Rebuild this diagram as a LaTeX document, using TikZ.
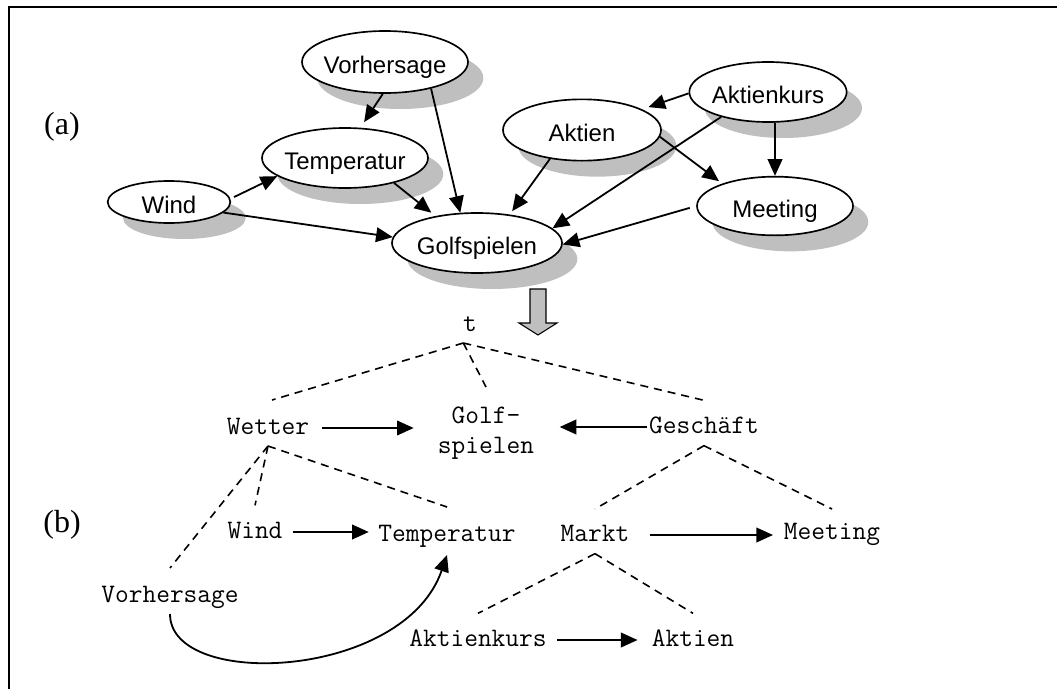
\documentclass[tikz,border=0pt]{standalone}
\usepackage{fontspec}
\setmainfont{Liberation Serif}
\newfontfamily\arialish{Liberation Sans}
\usetikzlibrary{arrows.meta,shapes.geometric,shadows}

\begin{document}
\begin{tikzpicture}[x=0.75pt,y=-0.75pt,
  bn/.style={ellipse, draw, line width=1.25pt, fill=white, inner xsep=-4pt, inner ysep=0pt,
     text height=16.5pt, text depth=0pt, font=\arialish\fontsize{18}{21}\selectfont,
     drop shadow={shadow xshift=11.5pt, shadow yshift=-12pt, fill=black!25, opacity=1}},
  dep/.style={line width=1.35pt, -{Triangle[length=12.5pt,width=11pt]}},
  tx/.style={font=\ttfamily\fontsize{20}{22.5}\selectfont, inner sep=0pt, text height=12pt, text depth=2pt},
  part/.style={line width=1.2pt, dash pattern=on 6pt off 4.5pt},
  lbl/.style={font=\fontsize{24}{28}\selectfont, inner sep=0pt},
]
\useasboundingbox (0,0) rectangle (1057,689);

% frame
\draw[line width=1.5pt] (1057,7) -- (9,7) -- (9,689);

% part labels
\node[lbl] (la) at (62,127) {(a)};
\node[lbl] (lb) at (62,525) {(b)};

% (a) belief network
\node[bn, minimum width=124.5pt, minimum height=46.5pt] (vor) at (385,62) {Vorhersage};
\node[bn, minimum width=124.5pt, minimum height=45pt] (tem) at (345,158) {Temperatur};
\node[bn, minimum width=92pt, minimum height=31.5pt] (win) at (169,202) {Wind};
\node[bn, minimum width=127.5pt, minimum height=45pt] (gol) at (477,243) {Golfspielen};
\node[bn, minimum width=118.5pt, minimum height=46pt] (akt) at (582,130) {Aktien};
\node[bn, minimum width=118pt, minimum height=45pt] (kur) at (768,92) {Aktienkurs};
\node[bn, minimum width=117pt, minimum height=44pt] (mee) at (775,206) {Meeting};

\draw[dep, shorten >=5pt] (vor.-94) -- (tem.63);
\draw[dep] (vor.-30) -- (gol.119);
\draw[dep, shorten >=4pt] (tem.-27) -- (gol.147);
\draw[dep, shorten <=3pt] (win.3) -- (tem.-165);
\draw[dep] (win.-11) -- (gol.176);
\draw[dep, shorten >=3pt] (akt.-138) -- (gol.41);
\draw[dep] (kur.-152) -- (gol.11);
\draw[dep, shorten >=5pt] (kur.181) -- (akt.19);
\draw[dep, shorten >=3pt] (akt.-5) -- (mee.157);
\draw[dep] (kur.-77) -- (mee.90);
\draw[dep, shorten <=5pt] (mee.180) -- (gol.-1);

% transformation arrow
\draw[line width=0.8pt, fill=black!25] (530,289) -- (546,289) -- (546,323) -- (557,323)
  -- (538,335) -- (519,323) -- (530,323) -- cycle;

% (b) hierarchical structure
\node[tx] (t) at (470,325) {t};
\node[tx] (wet) at (268,428) {Wetter};
\node[font=\ttfamily\fontsize{20}{22.5}\selectfont, inner sep=0pt, align=center] (golf) at (486,433) {Golf-\\spielen};
\node[tx] (ges) at (704,427) {Geschäft};
\node[tx] (wind) at (255,532) {Wind};
\node[tx] (temp) at (447,535) {Temperatur};
\node[tx] (mark) at (595,535) {Markt};
\node[tx] (meet) at (832,533) {Meeting};
\node[tx] (vorh) at (170,596) {Vorhersage};
\node[tx] (kurs) at (478,640) {Aktienkurs};
\node[tx] (aktb) at (693,640) {Aktien};

\draw[part] ([xshift=-5pt,yshift=-13.5pt]t.center) -- ([xshift=3pt,yshift=21pt]wet.center);
\draw[part] ([xshift=-5pt,yshift=-13.5pt]t.center) -- ([yshift=34.5pt]golf.center);
\draw[part] ([xshift=-5pt,yshift=-13.5pt]t.center) -- ([yshift=20pt]ges.center);
\draw[part] ([yshift=-13.5pt]wet.center) -- ([yshift=21pt]vorh.center);
\draw[part] ([yshift=-13.5pt]wet.center) -- ([yshift=20pt]wind.center);
\draw[part] ([yshift=-13.5pt]wet.center) -- ([yshift=21pt]temp.center);
\draw[part] ([yshift=-14pt]ges.center) -- ([yshift=19.5pt]mark.center);
\draw[part] ([yshift=-14pt]ges.center) -- ([yshift=18pt]meet.center);
\draw[part] ([yshift=-14pt]mark.center) -- ([yshift=20pt]kurs.center);
\draw[part] ([yshift=-14pt]mark.center) -- ([yshift=20pt]aktb.center);

\draw[dep, shorten <=9.75pt, shorten >=18pt] (wet.east) -- (wet.east -| golf.west);
\draw[dep, shorten <=1.5pt, shorten >=19pt] (ges.west) -- (ges.west -| golf.east);
\draw[dep, shorten <=7.5pt, shorten >=7pt] (wind.east) -- (wind.east -| temp.west);
\draw[dep, shorten <=15pt, shorten >=8pt] (mark.east) -- (mark.east -| meet.west);
\draw[dep, shorten <=7.5pt, shorten >=10.5pt] (kurs.east) -- (kurs.east -| aktb.west);
\draw[dep] ([yshift=-13.5pt]vorh.center) .. controls +(0,76) and +(-43,125) .. ([yshift=-15pt]temp.center);
\end{tikzpicture}
\end{document}
